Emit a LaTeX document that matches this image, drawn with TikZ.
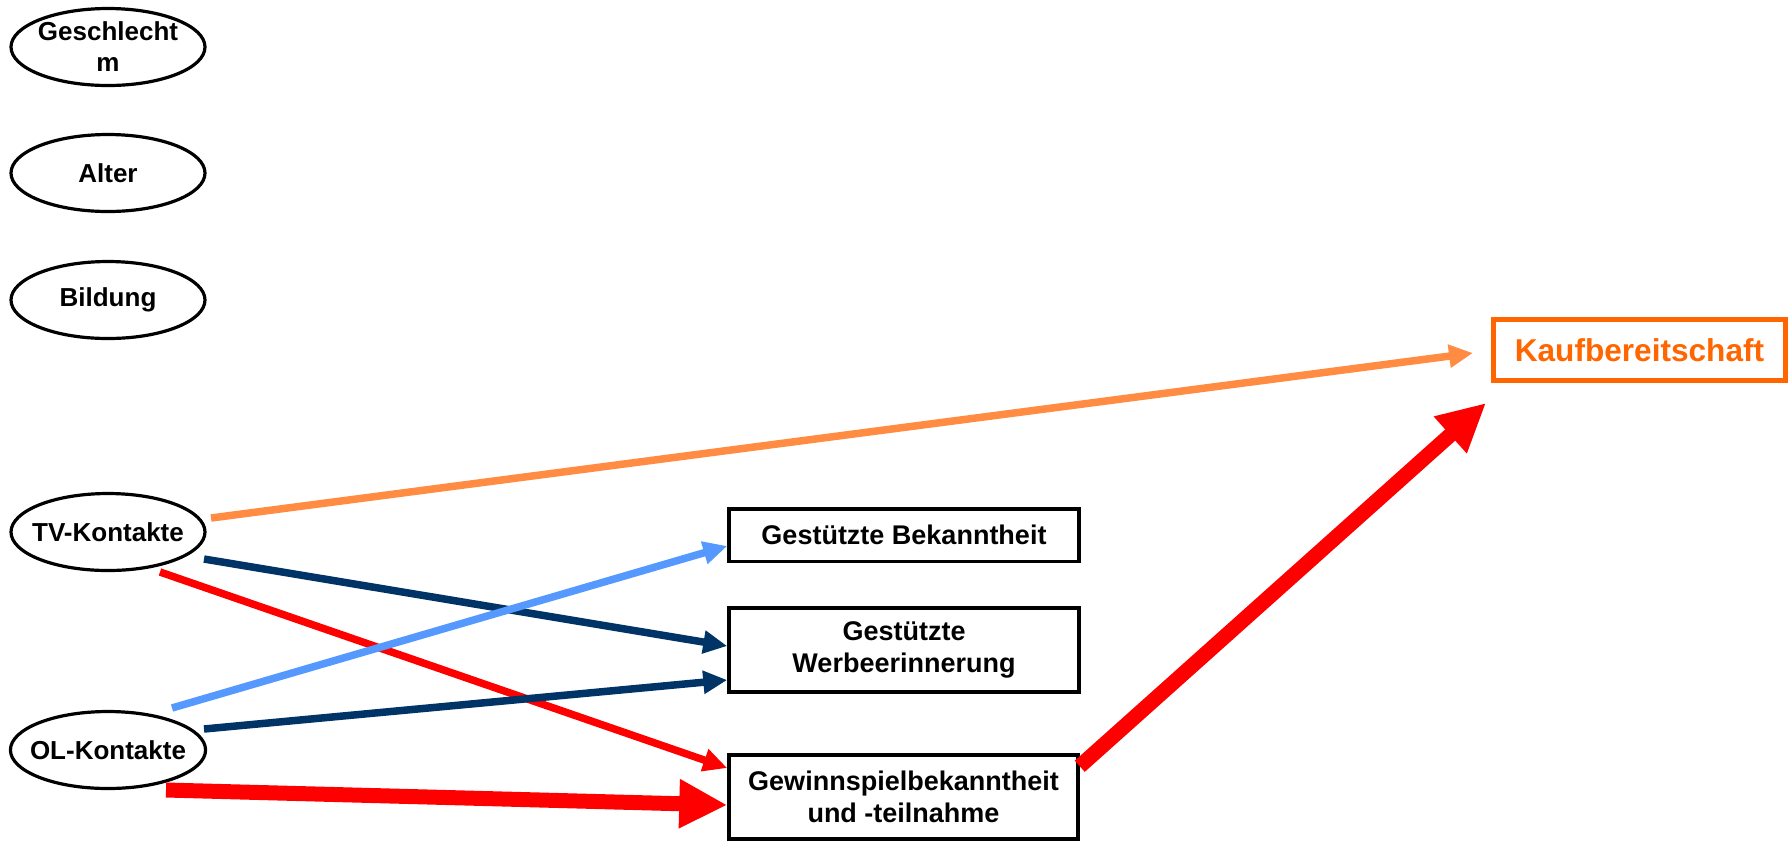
\documentclass[tikz,border=0pt]{standalone}
\usepackage{fontspec}
\setmainfont{Liberation Sans}
\usetikzlibrary{arrows.meta,shapes.geometric}
\definecolor{kauforange}{HTML}{FF6600}
\definecolor{arroworange}{HTML}{FF8C42}
\definecolor{lightblue}{HTML}{5599FF}
\definecolor{darkblue}{HTML}{003366}
\definecolor{pathred}{HTML}{FF0000}
\begin{document}
\begin{tikzpicture}[x=0.5pt,y=-0.5pt,
  ell/.style={draw=black, line width=1.6pt, ellipse, minimum width=97pt, minimum height=38.5pt, inner xsep=-4.5pt, inner ysep=-1pt, font=\fontsize{13}{15.5}\selectfont\bfseries, align=center},
  box/.style={draw=black, line width=1.75pt, rectangle, inner sep=0pt, minimum width=175pt, font=\fontsize{13.5}{16}\selectfont\bfseries, align=center},
  conn/.style={line width=3.75pt, -{Triangle[length=12pt,width=11pt]}},
  fat/.style={line width=7.5pt, -{Triangle[length=24pt,width=23pt]}}]
\useasboundingbox (0,0) rectangle (1789,843);

% ellipses
\node[ell] (ges) at (108,47) {Geschlecht\\m};
\node[ell] (alt) at (108,173) {Alter};
\node[ell] (bil) at (108,300) {Bildung};
\node[ell] (tv) at (108,532) {TV-Kontakte};
\node[ell] (ol) at (108,750) {OL-Kontakte};

% boxes
\node[box, minimum height=26.25pt] (gb) at (904,535) {Gestützte Bekanntheit};
\node[box, minimum height=42pt] (gw) at (904,650) {Gestützte\\Werbeerinnerung};
\node[box, minimum height=42pt, minimum width=174.5pt] (gew) at (903.5,797) {Gewinnspielbekanntheit\\und -teilnahme};
\node[draw=kauforange, line width=2.5pt, rectangle, inner sep=0pt, minimum width=146pt, minimum height=30.5pt, text=kauforange, font=\fontsize{15.8}{18}\selectfont\bfseries] (kauf) at (1639.5,350) {Kaufbereitschaft};

% connectors
\draw[conn, arroworange] ([xshift=51.5pt,yshift=7pt]tv.center) -- ([xshift=-9pt,yshift=-1.5pt]kauf.west);
\draw[conn, darkblue] ([xshift=48pt,yshift=-13.5pt]tv.center) -- ([yshift=2pt]gw.west);
\draw[conn, pathred] ([xshift=26pt,yshift=-20pt]tv.center) -- ([yshift=14.5pt]gew.west);
\draw[conn, lightblue] ([xshift=32pt,yshift=21pt]ol.center) -- ([yshift=-5.5pt]gb.west);
\draw[conn, darkblue] ([xshift=48pt,yshift=10.5pt]ol.center) -- ([yshift=-15pt]gw.west);
\draw[fat, pathred] ([xshift=29pt,yshift=-20pt]ol.center) -- ([yshift=-4pt]gew.west);
\draw[fat, pathred] ([yshift=-6.5pt]gew.north east) -- ([xshift=-2.5pt,yshift=-10pt]kauf.south west);
\end{tikzpicture}
\end{document}
